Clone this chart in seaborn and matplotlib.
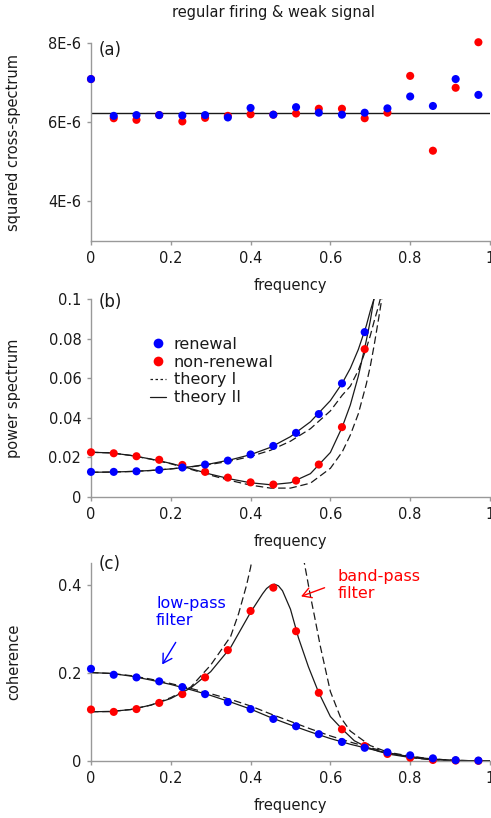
import numpy as np
import matplotlib
matplotlib.use("Agg")
import matplotlib.pyplot as plt
import seaborn as sns
from matplotlib.lines import Line2D

# ---- data ----
# sample frequencies of the simulations (18 bins)
freq = [0.0, 0.057, 0.114, 0.171, 0.229, 0.286, 0.343, 0.400, 0.457,
        0.514, 0.571, 0.629, 0.686, 0.743, 0.800, 0.857, 0.914, 0.971]

# (a) squared cross-spectrum
cross_renewal = [7.09e-6, 6.16e-6, 6.18e-6, 6.18e-6, 6.17e-6, 6.18e-6, 6.12e-6, 6.36e-6, 6.19e-6,
                 6.38e-6, 6.24e-6, 6.19e-6, 6.24e-6, 6.35e-6, 6.65e-6, 6.41e-6, 7.09e-6, 6.69e-6]
cross_nonrenewal = [7.09e-6, 6.10e-6, 6.06e-6, 6.18e-6, 6.02e-6, 6.11e-6, 6.16e-6, 6.20e-6, 6.19e-6,
                    6.22e-6, 6.34e-6, 6.34e-6, 6.10e-6, 6.24e-6, 7.17e-6, 5.28e-6, 6.87e-6, 8.02e-6]
cross_theory = 6.245e-6

# (b) power spectrum (only bins below the divergence)
freq_b = freq[:13]
power_renewal = [0.0127, 0.0127, 0.0130, 0.0137, 0.0149, 0.0164, 0.0184, 0.0215, 0.0258,
                 0.0324, 0.0419, 0.0574, 0.0833]
power_nonrenewal = [0.0226, 0.0221, 0.0206, 0.0188, 0.0162, 0.0127, 0.0098, 0.0074, 0.0063,
                    0.0083, 0.0164, 0.0353, 0.0747]

th_freq_b = [0.0, 0.05, 0.1, 0.15, 0.2, 0.25, 0.3, 0.35, 0.4, 0.45, 0.5, 0.55, 0.6,
             0.63, 0.65, 0.67, 0.69, 0.70, 0.71, 0.72, 0.73, 0.74]
ps_ren_II = [0.0125, 0.0126, 0.0129, 0.0134, 0.0142, 0.0153, 0.0168, 0.0188, 0.0214, 0.0251,
             0.0305, 0.0380, 0.0487, 0.0576, 0.0650, 0.0745, 0.0865, 0.0940, 0.1005, 0.108,
             0.116, 0.125]
ps_ren_I = [0.0125, 0.0126, 0.0129, 0.0134, 0.0142, 0.0152, 0.0165, 0.0182, 0.0205, 0.0236,
            0.0282, 0.0345, 0.0435, 0.0515, 0.0560, 0.0640, 0.0750, 0.0815, 0.0890, 0.0960,
            0.1040, 0.112]
ps_non_II = [0.0226, 0.0223, 0.0210, 0.0192, 0.0170, 0.0143, 0.0115, 0.0091, 0.0072, 0.0062,
             0.0072, 0.0118, 0.0225, 0.0355, 0.0465, 0.0610, 0.0790, 0.0890, 0.1010, 0.114,
             0.128, 0.142]
ps_non_I = [0.0226, 0.0223, 0.0210, 0.0191, 0.0168, 0.0140, 0.0110, 0.0083, 0.0060, 0.0045,
            0.0045, 0.0070, 0.0145, 0.0229, 0.0313, 0.0420, 0.0570, 0.0660, 0.0770, 0.0890,
            0.1015, 0.115]

# (c) coherence
coh_renewal = [0.2095, 0.196, 0.190, 0.181, 0.168, 0.152, 0.134, 0.118, 0.0956,
               0.079, 0.061, 0.0433, 0.030, 0.0197, 0.0129, 0.006, 0.002, 0.001]
coh_nonrenewal = [0.117, 0.1116, 0.118, 0.132, 0.152, 0.190, 0.252, 0.341, 0.394,
                  0.295, 0.155, 0.072, 0.034, 0.016, 0.0076, 0.0023, 0.001, 0.0003]

th_freq_lp = [0.0, 0.05, 0.1, 0.15, 0.2, 0.25, 0.3, 0.35, 0.4, 0.45, 0.5, 0.55, 0.6,
              0.65, 0.7, 0.75, 0.8, 0.85, 0.9, 0.95, 1.0]
coh_lp_II = [0.201, 0.199, 0.193, 0.184, 0.174, 0.162, 0.149, 0.134, 0.118, 0.099, 0.082,
             0.066, 0.051, 0.038, 0.027, 0.017, 0.010, 0.005, 0.002, 0.0007, 0.0]
coh_lp_I = [0.201, 0.199, 0.194, 0.186, 0.176, 0.165, 0.153, 0.140, 0.125, 0.107, 0.090,
            0.073, 0.057, 0.043, 0.030, 0.019, 0.011, 0.005, 0.002, 0.0007, 0.0]

th_freq_bp_II = [0.0, 0.05, 0.1, 0.15, 0.2, 0.25, 0.3, 0.35, 0.4, 0.43, 0.44, 0.45, 0.46,
                 0.47, 0.48, 0.5, 0.52, 0.545, 0.57, 0.6, 0.63, 0.66, 0.69, 0.72, 0.75,
                 0.8, 0.85, 0.9, 0.95, 1.0]
coh_bp_II = [0.112, 0.1125, 0.117, 0.127, 0.142, 0.166, 0.203, 0.258, 0.338, 0.380, 0.392,
             0.399, 0.402, 0.398, 0.387, 0.345, 0.280, 0.214, 0.157, 0.101, 0.072, 0.046,
             0.032, 0.022, 0.015, 0.008, 0.0035, 0.0012, 0.0003, 0.0]
th_freq_bp_I = [0.0, 0.05, 0.1, 0.15, 0.2, 0.25, 0.3, 0.35, 0.37, 0.39, 0.40, 0.41,
                0.53, 0.535, 0.55, 0.56, 0.575, 0.6, 0.625, 0.65, 0.7, 0.75, 0.8, 0.85,
                0.9, 0.95, 1.0]
coh_bp_I = [0.112, 0.1125, 0.117, 0.127, 0.144, 0.168, 0.218, 0.283, 0.335, 0.400, 0.440,
            0.490, 0.470, 0.449, 0.375, 0.330, 0.260, 0.158, 0.100, 0.068, 0.035, 0.018,
            0.008, 0.003, 0.001, 0.0003, 0.0]

xticks = [0, 0.2, 0.4, 0.6, 0.8, 1.0]
xticklabels = ["0", "0.2", "0.4", "0.6", "0.8", "1"]
yticks_a = [4e-6, 6e-6, 8e-6]
yticklabels_a = ["4E-6", "6E-6", "8E-6"]
yticks_b = [0, 0.02, 0.04, 0.06, 0.08, 0.1]
yticklabels_b = ["0", "0.02", "0.04", "0.06", "0.08", "0.1"]
yticks_c = [0, 0.2, 0.4]
yticklabels_c = ["0", "0.2", "0.4"]

# ---- style ----
sns.set_theme(style="white")
plt.rcParams['font.family'] = ['DejaVu Sans']
plt.rcParams['font.size'] = 10.5
plt.rcParams['text.color'] = 'black'
plt.rcParams['axes.labelcolor'] = 'black'
plt.rcParams['xtick.labelcolor'] = 'black'
plt.rcParams['ytick.labelcolor'] = 'black'

BLUE = "#0000ff"
RED = "#ff0000"
GREY = "#999999"
DOT = 34

fig = plt.figure(figsize=(4.91, 8.18), dpi=100)
left, width, height = 0.1853, 0.8126, 0.242
ax_a = fig.add_axes([left, 0.7054, width, height])
ax_b = fig.add_axes([left, 0.3924, width, height])
ax_c = fig.add_axes([left, 0.0697, width, height])


def style_axis(ax, yticks, ylabels, ylab, panel, panel_y):
    ax.set_xlim(0, 1)
    ax.set_xticks(xticks)
    ax.set_xticklabels(xticklabels, fontsize=10.5)
    ax.set_yticks(yticks)
    ax.set_yticklabels(ylabels, fontsize=10.5)
    ax.set_xlabel("frequency", fontsize=10.5, labelpad=9, color="k")
    ax.set_ylabel(ylab, fontsize=10.5, color="k")
    ax.yaxis.set_label_coords(-0.175, 0.5)
    for s in ["top", "right"]:
        ax.spines[s].set_visible(False)
    for s in ["left", "bottom"]:
        ax.spines[s].set_color(GREY)
        ax.spines[s].set_linewidth(1)
    ax.tick_params(axis="both", direction="out", length=3, width=1, color=GREY,
                   labelcolor="k", pad=4, left=True, bottom=True)
    ax.grid(False)
    ax.text(0.018, panel_y, panel, transform=ax.transAxes, fontsize=12,
            ha="left", va="center", color="k")


# ---- (a) squared cross-spectrum ----
ax_a.axhline(cross_theory, color="k", lw=1)
sns.scatterplot(x=freq, y=cross_nonrenewal, color=RED, s=DOT, edgecolor="none",
                ax=ax_a, clip_on=False, zorder=3)
sns.scatterplot(x=freq, y=cross_renewal, color=BLUE, s=DOT, edgecolor="none",
                ax=ax_a, clip_on=False, zorder=4)
ax_a.set_ylim(3e-6, 8e-6)
style_axis(ax_a, yticks_a, yticklabels_a, "squared cross-spectrum", "(a)", 0.965)

# ---- (b) power spectrum ----
dash = (0, (6, 3))
sns.lineplot(x=th_freq_b, y=ps_ren_I, color="k", lw=0.9, ax=ax_b)
sns.lineplot(x=th_freq_b, y=ps_non_I, color="k", lw=0.9, ax=ax_b)
for ln in ax_b.get_lines()[:2]:
    ln.set_linestyle(dash)
sns.lineplot(x=th_freq_b, y=ps_ren_II, color="k", lw=0.9, ax=ax_b)
sns.lineplot(x=th_freq_b, y=ps_non_II, color="k", lw=0.9, ax=ax_b)
sns.scatterplot(x=freq_b, y=power_nonrenewal, color=RED, s=DOT, edgecolor="none",
                ax=ax_b, clip_on=False, zorder=3)
sns.scatterplot(x=freq_b, y=power_renewal, color=BLUE, s=DOT, edgecolor="none",
                ax=ax_b, clip_on=False, zorder=4)
ax_b.set_ylim(0, 0.1)
style_axis(ax_b, yticks_b, yticklabels_b, "power spectrum", "(b)", 0.985)

handles = [
    Line2D([], [], marker="o", color="none", markerfacecolor=BLUE, markeredgecolor="none", markersize=7),
    Line2D([], [], marker="o", color="none", markerfacecolor=RED, markeredgecolor="none", markersize=7),
    Line2D([], [], color="k", lw=0.9, linestyle=(0, (2, 2))),
    Line2D([], [], color="k", lw=0.9),
]
leg = ax_b.legend(handles, ["renewal", "non-renewal", "theory I", "theory II"],
                  loc="upper left", bbox_to_anchor=(0.148, 0.81), frameon=False,
                  fontsize=11.5, handlelength=1.0, handletextpad=0.5,
                  labelspacing=0.18, borderpad=0, borderaxespad=0)
for t in leg.get_texts():
    t.set_color("k")

# ---- (c) coherence ----
sns.lineplot(x=th_freq_lp, y=coh_lp_I, color="k", lw=0.9, ax=ax_c)
sns.lineplot(x=th_freq_bp_I, y=coh_bp_I, color="k", lw=0.9, ax=ax_c)
for ln in ax_c.get_lines()[:2]:
    ln.set_linestyle(dash)
sns.lineplot(x=th_freq_lp, y=coh_lp_II, color="k", lw=0.9, ax=ax_c)
sns.lineplot(x=th_freq_bp_II, y=coh_bp_II, color="k", lw=0.9, ax=ax_c)
sns.scatterplot(x=freq, y=coh_nonrenewal, color=RED, s=DOT, edgecolor="none",
                ax=ax_c, clip_on=False, zorder=3)
sns.scatterplot(x=freq, y=coh_renewal, color=BLUE, s=DOT, edgecolor="none",
                ax=ax_c, clip_on=False, zorder=4)
ax_c.set_ylim(0, 0.45)
style_axis(ax_c, yticks_c, yticklabels_c, "coherence", "(c)", 0.995)

ax_c.text(0.163, 0.338, "low-pass\nfilter", color=BLUE, fontsize=11.5,
          ha="left", va="center", linespacing=1.15)
ax_c.annotate("", xy=(0.175, 0.214), xytext=(0.216, 0.275),
              arrowprops=dict(arrowstyle="->,head_length=0.6,head_width=0.35",
                              color=BLUE, lw=1))
ax_c.text(0.617, 0.400, "band-pass\nfilter", color=RED, fontsize=11.5,
          ha="left", va="center", linespacing=1.15)
ax_c.annotate("", xy=(0.52, 0.372), xytext=(0.592, 0.396),
              arrowprops=dict(arrowstyle="->,head_length=0.6,head_width=0.35",
                              color=RED, lw=1))

fig.text(0.557, 0.985, "regular firing & weak signal", fontsize=10.5,
         ha="center", va="center", color="k")

fig.savefig("out.png", dpi=100)
